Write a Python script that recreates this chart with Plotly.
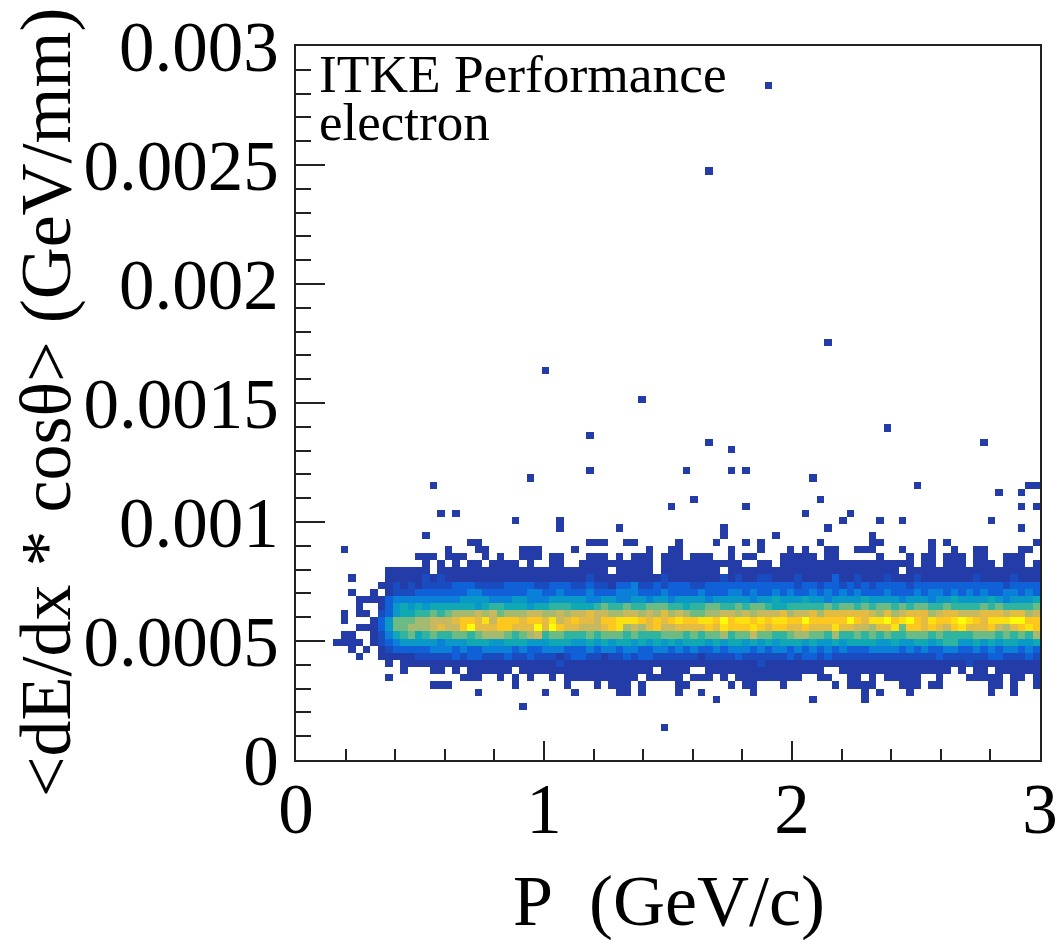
import numpy as np
import plotly.graph_objects as go

# 2D histogram: 100 x 100 bins, P 0..3, dE/dx 0..0.003
x_edges_max = 3.0
y_edges_max = 0.003
n_bins = 100

# one string per dE/dx bin (key = bin number), ten groups of ten P bins; hex digit = colour level
row_04 = ".......... .......... .......... .......... .........1 .......... .......... .......... .......... .........."
row_07 = ".......... .......... .......... 1......... .......... .......... .......... .......... .......... .........."
row_08 = ".......... .......... .......... .......... .......... ......1... .........1 ......1... .......... .........."
row_09 = ".......... .......... ....1..... ...1...1.. ...11.1... .1..1..... .1........ ......1.1. ..1....... ...1..1..."
row_10 = ".......... ........11 1........1 ......1... 1.111.1... .11.....1. 11...1.... ..1.1111.. .111.11... ...11.1..1"
row_11 = ".......... ..1....... ..111..1.1 .1..1.1111 111111.111 11.111.1.1 11111111.. 11..11.1.1 1111..1... 11111.11.1"
row_12 = ".......... ....1...11 .1.111111. 1111111111 11111111.1 111..11111 1111111111 1..1111111 11111111.1 .11.111111"
row_13 = ".......... ..1.111111 1111111111 1111121111 1111111111 1111111111 1121111111 1111111111 1111111111 2111111111"
row_14 = "........1. .111112222 2323322232 2322212332 2122323322 2222122223 2222223233 2322222222 2222223222 2223322232"
row_15 = ".......1.1 .123333344 4343344443 4334443334 3443443344 3434334344 4343443434 3434333444 4343433443 3434344343"
row_16 = ".....1111. 1234555554 5556665566 6555666556 5656656565 6566656566 5656566656 5565666655 6556656775 5656566556"
row_17 = "......11.. 1246786787 7887899987 89a7887778 7888787778 8878788978 8a88778998 8797787878 7788878777 7888787879"
row_18 = "........11 13588999ab aacebbbccb bbebecbbaa abcd9a9bca abbbbcbdcc cdcbccbbcb bbdbbaa9bb d8ccbcbacd bbbca9bcdc"
row_19 = "......1... 13588899aa abccbdaccc bccbdabcbb accdddcbcb cdccddcecd dcdcddccec ccccecbdde cdecbdccde dcbdddeecc"
row_20 = "......1.11 .235667787 8999a9a899 9aa99a9aab aa99aa9a9b 9a98899aa9 a9aaab9aab 9bbbbbba9b 9abbb9abba aabbbabb9a"
row_21 = "........1. .135656566 6666567766 6566777666 7877877888 7767788778 7887667777 7878878788 7878877877 7787877778"
row_22 = "........11 1134444444 4455554445 5444555554 4554455455 4555545555 5455655565 5455556555 5455545565 5556545556"
row_23 = ".......1.. 1.12223333 3334433333 3443343334 3334443334 3333433344 3433434334 3434343334 3334344343 4343344343"
row_24 = ".......... .112121222 2333222233 3322333223 2213342232 3332233333 3333333233 2332323233 3323333333 3333323333"
row_25 = ".......1.. ..11111212 1111111111 1111111112 1111111112 1111111212 1122111211 1131121112 1112111111 1211112111"
row_26 = ".......... ..111111.1 1111111111 1111111111 11.11111.1 1111111.11 1111111111 1111111111 1.11111111 1111111111"
row_27 = ".......... .......1.1 .1.11.1111 .1..11..11 11111111.1 1111111111 ..11.11111 1111111111 111.11.111 .111.111.1"
row_28 = ".......... ......111. 111..1.1.. 111.11...1 11.1.111.1 11.111..1. 11...11111 .11.....1. ..1.11.111 .11..111.."
row_29 = "......1... .......... 1...11.... 111....1.. .......1.. 11......1. ..1...1.1. .11..111.. .1...1..1. .11....11."
row_30 = ".......... .......... ...11..... .........1 11..11.... .1....1... 1.1....... 1......11. .....1.1.. .........1"

band_rows = {4: row_04, 7: row_07, 8: row_08, 9: row_09, 10: row_10, 11: row_11, 12: row_12,
             13: row_13, 14: row_14, 15: row_15, 16: row_16, 17: row_17, 18: row_18, 19: row_19,
             20: row_20, 21: row_21, 22: row_22, 23: row_23, 24: row_24, 25: row_25, 26: row_26,
             27: row_27, 28: row_28, 29: row_29, 30: row_30}

# isolated single-count cells above the band, as (P bin, dE/dx bin)
lone_p_bins = [17, 57, 64, 77, 35, 43, 57, 71, 97, 29, 35, 73, 78, 81, 93, 19, 21, 68, 74,
               50, 60, 97, 99, 53, 70, 94, 97, 18, 83, 98, 99, 31, 69, 52, 58, 60, 39,
               58, 55, 92, 39, 79, 46, 33, 71, 55, 63]
lone_e_bins = [31, 31, 31, 31, 32, 32, 32, 32, 32, 33, 33, 33, 33, 33, 33, 34, 34, 34, 34,
               35, 35, 35, 35, 36, 36, 37, 37, 38, 38, 38, 38, 39, 39, 40, 40, 40, 40,
               43, 44, 44, 45, 46, 50, 54, 58, 82, 94]

level_colors = ["#243ca8", "#1a4cc0", "#1060d8", "#0a80d8", "#0a98c8", "#10a8b4", "#30b4a0",
                "#6cba84", "#a4ba70", "#c8b860", "#e4bc44", "#fcc820", "#fce010", "#fcfc0a"]

y_tick_vals = [0, 0.0005, 0.001, 0.0015, 0.002, 0.0025, 0.003]
y_tick_text = ["0", "0.0005", "0.001", "0.0015", "0.002", "0.0025", "0.003"]
x_tick_vals = [0, 1, 2, 3]
x_tick_text = ["0", "1", "2", "3"]

x_title = "P\u00a0\u00a0(GeV/c)"
y_title = "<dE/dx * cos\u03b8> (GeV/mm)"
label_1 = "ITKE Performance"
label_2 = "electron"

z = np.full((n_bins, n_bins), np.nan)
for j, text in band_rows.items():
    cells = text.replace(" ", "")
    assert len(cells) == n_bins, j
    for i, ch in enumerate(cells):
        if ch != ".":
            z[j, i] = int(ch, 16)
for i, j in zip(lone_p_bins, lone_e_bins):
    z[j, i] = 1

x_centers = (np.arange(n_bins) + 0.5) * x_edges_max / n_bins
y_centers = (np.arange(n_bins) + 0.5) * y_edges_max / n_bins

n = len(level_colors)
scale = []
for k, c in enumerate(level_colors):
    scale += [[k / n, c], [(k + 1) / n, c]]

FONT = "Liberation Serif"
fig = go.Figure(go.Heatmap(x=x_centers, y=y_centers, z=z, zmin=0.5, zmax=n + 0.5,
                           colorscale=scale, showscale=False, hoverongaps=False))

W, H = 1061, 940
L, R, T, B = 296, 1040, 46, 760
fig.update_layout(
    width=W, height=H, paper_bgcolor="white", plot_bgcolor="white",
    margin=dict(l=L, r=W - R, t=T, b=H - B, pad=0),
    font=dict(family=FONT, color="black", size=71),
    xaxis=dict(range=[0, 3], tickmode="array", tickvals=x_tick_vals, ticktext=x_tick_text,
               ticks="inside", ticklen=19, tickwidth=1.5, tickcolor="#222", automargin=False,
               minor=dict(dtick=0.2, ticks="inside", ticklen=11, tickwidth=1.5, tickcolor="#222"),
               showgrid=False, zeroline=False, showline=True, mirror=True,
               linecolor="#222", linewidth=2, ticklabelstandoff=-14,
               tickfont=dict(family=FONT, size=71)),
    yaxis=dict(range=[0, 0.003], tickmode="array", tickvals=y_tick_vals, ticktext=y_tick_text,
               ticks="inside", ticklen=29, tickwidth=1.5, tickcolor="#222", automargin=False,
               minor=dict(dtick=0.0001, ticks="inside", ticklen=15, tickwidth=1.5, tickcolor="#222"),
               showgrid=False, zeroline=False, showline=True, mirror=True,
               linecolor="#222", linewidth=2, ticklabelstandoff=1,
               tickfont=dict(family=FONT, size=71)),
    annotations=[
        dict(text=label_1, xref="paper", yref="paper", x=21 / 744, y=1 - (28 / 714),
             xanchor="left", yanchor="middle", showarrow=False, font=dict(family=FONT, size=53.4)),
        dict(text=label_2, xref="paper", yref="paper", x=21 / 744, y=1 - (76 / 714),
             xanchor="left", yanchor="middle", showarrow=False, font=dict(family=FONT, size=53)),
        dict(text=x_title, xref="paper", yref="paper", x=373 / 744, y=-141 / 714,
             xanchor="center", yanchor="middle", showarrow=False, font=dict(family=FONT, size=72)),
        dict(text=y_title, xref="paper", yref="paper", x=-250 / 744, y=358 / 714, textangle=-90,
             xanchor="center", yanchor="middle", showarrow=False, font=dict(family=FONT, size=72)),
    ],
)
fig.write_html("out.html", config=dict(displayModeBar=False),
               post_script="document.body.style.margin='0';document.body.style.overflow='hidden';")
